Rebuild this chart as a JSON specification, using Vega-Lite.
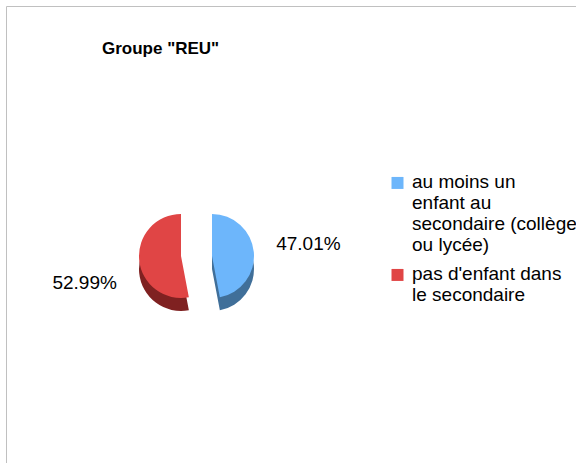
{
  "$schema": "https://vega.github.io/schema/vega-lite/v6.json",
  "width": 570,
  "height": 500,
  "autosize": {"type": "none"},
  "padding": {"left": 6, "top": 6, "right": 0, "bottom": 0},
  "background": "white",
  "view": {"stroke": "#c0c0c0", "strokeWidth": 1},
  "title": {
    "text": "Groupe \"REU\"",
    "anchor": "start",
    "frame": "group",
    "orient": "top",
    "offset": 0,
    "baseline": "alphabetic",
    "dx": 96,
    "dy": 65,
    "font": "Liberation Sans",
    "fontSize": 17,
    "fontWeight": "bold",
    "color": "#000000"
  },
  "data": {
    "values": [
      {"groupe": "au moins un enfant au secondaire (collège ou lycée)", "part": 0.4701},
      {"groupe": "pas d'enfant dans le secondaire", "part": 0.5299}
    ]
  },
  "transform": [
    {"stack": "part", "groupby": [], "sort": [{"field": "groupe", "order": "ascending"}], "as": ["t0", "t1"]}
  ],
  "layer": [
    {
      "transform": [{"filter": {"field": "groupe", "equal": "pas d'enfant dans le secondaire"}}],
      "mark": {"type": "arc", "radius": 42, "xOffset": -110, "yOffset": 13, "fill": "#7f2121"},
      "encoding": {
        "theta": {"field": "t0", "type": "quantitative", "scale": {"domain": [0, 1]}},
        "theta2": {"field": "t1"}
      }
    },
    {
      "transform": [{"filter": {"field": "groupe", "equal": "au moins un enfant au secondaire (collège ou lycée)"}}],
      "mark": {"type": "arc", "radius": 42, "xOffset": -79, "yOffset": 13, "fill": "#406f99"},
      "encoding": {
        "theta": {"field": "t0", "type": "quantitative", "scale": {"domain": [0, 1]}},
        "theta2": {"field": "t1"}
      }
    },
    {
      "transform": [{"filter": {"field": "groupe", "equal": "pas d'enfant dans le secondaire"}}],
      "mark": {"type": "arc", "radius": 42, "xOffset": -110, "yOffset": 0},
      "encoding": {
        "theta": {"field": "t0", "type": "quantitative", "scale": {"domain": [0, 1]}},
        "theta2": {"field": "t1"},
        "color": {
          "field": "groupe",
          "type": "nominal",
          "scale": {"domain": ["au moins un enfant au secondaire (collège ou lycée)", "pas d'enfant dans le secondaire"], "range": ["#6db6fb", "#e04545"]},
          "legend": {
            "title": null,
            "orient": "none",
            "legendX": 382,
            "legendY": 172,
            "padding": 0,
            "symbolType": "M-1,-1.76H1V0.24H-1Z",
            "symbolSize": 144,
            "symbolStrokeWidth": 0,
            "symbolOpacity": 1,
            "labelFont": "Liberation Sans",
            "labelFontSize": 19,
            "labelColor": "#000000",
            "labelLimit": 400,
            "labelOffset": 5,
            "labelBaseline": "alphabetic",
            "rowPadding": 9,
            "labelExpr": "indexof(datum.label, 'moins') >= 0 ? ['\u00a0au moins un', 'enfant au', 'secondaire (collège', 'ou lycée)'] : [\"\u00a0pas d'enfant dans\", 'le secondaire']"
          }
        }
      }
    },
    {
      "transform": [{"filter": {"field": "groupe", "equal": "au moins un enfant au secondaire (collège ou lycée)"}}],
      "mark": {"type": "arc", "radius": 42, "xOffset": -79, "yOffset": 0},
      "encoding": {
        "theta": {"field": "t0", "type": "quantitative", "scale": {"domain": [0, 1]}},
        "theta2": {"field": "t1"},
        "color": {"field": "groupe", "type": "nominal"}
      }
    },
    {
      "mark": {
        "type": "text",
        "radius": 80,
        "align": {"expr": "datum.part < 0.5 ? 'left' : 'right'"},
        "dy": {"expr": "datum.part < 0.5 ? 1.5 : 25"},
        "baseline": "alphabetic",
        "xOffset": -94.5,
        "font": "Liberation Sans",
        "fontSize": 19,
        "color": "#000000"
      },
      "encoding": {
        "theta": {"field": "part", "type": "quantitative", "stack": true},
        "order": {"field": "groupe", "type": "ordinal", "sort": "ascending"},
        "text": {"field": "part", "type": "quantitative", "format": ".2%"}
      }
    }
  ],
  "config": {
    "view": {"stroke": "#c0c0c0", "strokeWidth": 1},
    "style": {"view": {"stroke": "#c0c0c0", "strokeWidth": 1}, "cell": {"stroke": "#c0c0c0", "strokeWidth": 1}}
  }
}
